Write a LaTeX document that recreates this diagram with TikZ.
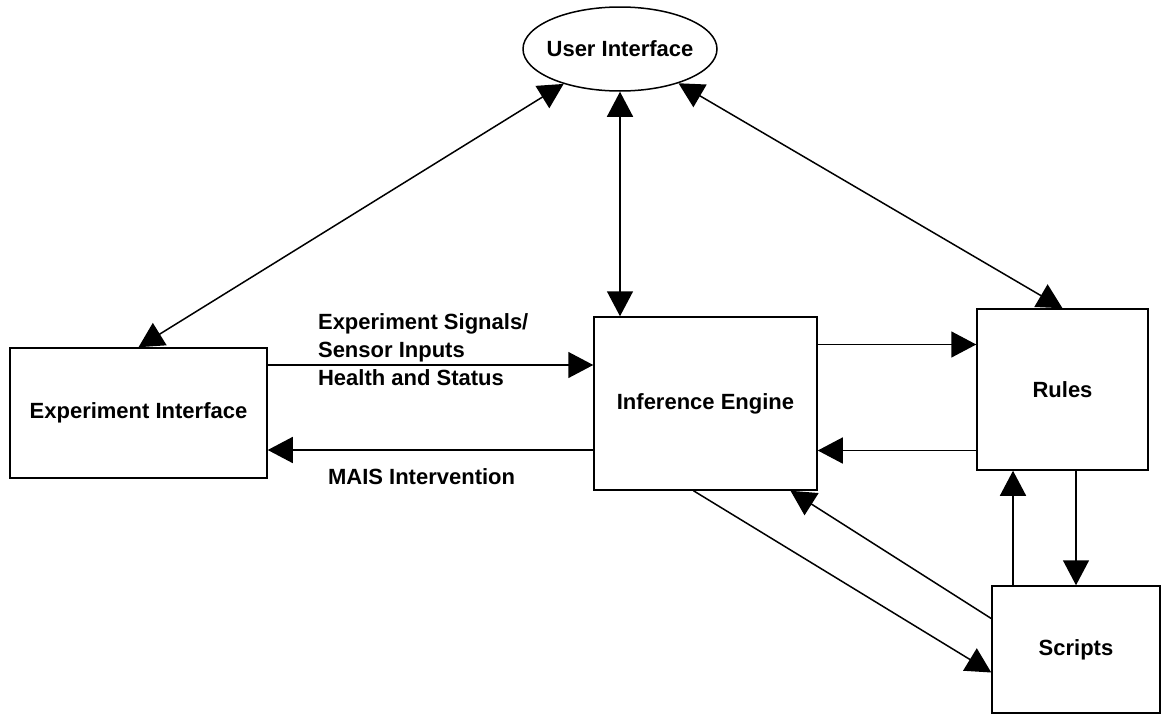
\documentclass[tikz,border=0pt]{standalone}
\usepackage{fontspec}
\setmainfont{Liberation Sans}
\usetikzlibrary{arrows.meta,shapes.geometric}

\begin{document}
\begin{tikzpicture}[x=1pt,y=-1pt,line width=1.5pt,
        font=\fontsize{22}{28}\selectfont\bfseries,
        box/.style={draw,rectangle,inner sep=0pt},
        link/.style={-{Triangle[length=25pt,width=26pt]}},
        dlink/.style={{Triangle[length=25pt,width=26pt]}-{Triangle[length=25pt,width=26pt]}}]
        \useasboundingbox (0,0) rectangle (1161,715);
        \node[draw,ellipse,inner xsep=-8pt,minimum width=194pt,minimum height=84pt] (ui) at (620,49) {User Interface};
        \node[box,minimum width=257pt,minimum height=130pt] (exp) at (138.5,413) {Experiment Interface};
        \node[box,minimum width=223pt,minimum height=173pt] (ie) at (705.5,403.5) {Inference Engine};
        \node[box,minimum width=171pt,minimum height=161pt] (rules) at (1062.5,389.5) {Rules};
        \node[box,minimum width=168pt,minimum height=127pt] (scripts) at (1076,649.5) {Scripts};

        \draw[dlink] (exp.north) -- (ui);
        \draw[dlink] (ui.south) -- (ui.south |- ie.north);
        \draw[dlink] (rules.north) -- (ui);

        \draw[link] ([yshift=48pt]exp.east) -- ([yshift=48pt]exp.east -| ie.west);
        \draw[link] ([yshift=-37pt]exp.east -| ie.west) -- ([yshift=-37pt]exp.east);
        \draw[link] ([yshift=45pt]rules.west -| ie.east) -- ([yshift=45pt]rules.west);
        \draw[link] ([yshift=-61pt]rules.west) -- ([yshift=-61pt]rules.west -| ie.east);
        \draw[link] ([xshift=-63pt]scripts.north) -- ([xshift=-63pt]scripts.north |- rules.south);
        \draw[link] (scripts.north |- rules.south) -- (scripts.north);
        \draw[link] ([xshift=-12pt]ie.south) -- ([yshift=-23pt]scripts.west);
        \draw[link] ([yshift=31pt]scripts.west) -- ([xshift=85pt]ie.south);

        \node[anchor=west,align=left] (sig) at (314,350) {Experiment Signals/\\Sensor Inputs\\Health and Status};
        \node[anchor=west] (mais) at (324,477) {MAIS Intervention};
\end{tikzpicture}
\end{document}
